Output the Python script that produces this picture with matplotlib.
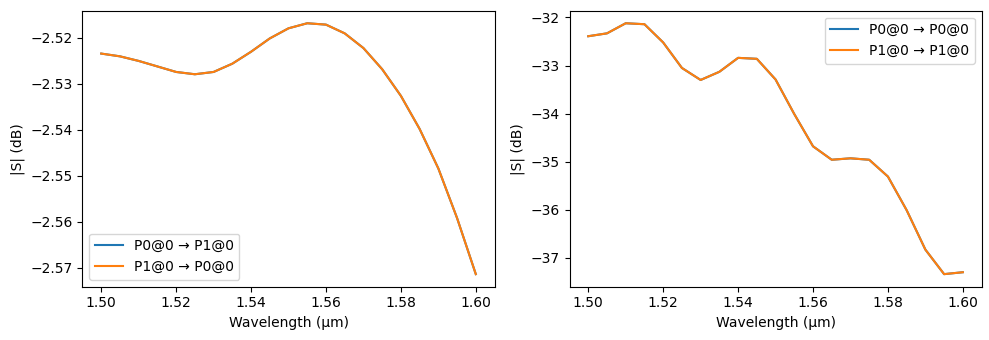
import numpy as np
import matplotlib.pyplot as plt

wavelength = np.round(np.arange(1.500, 1.6001, 0.005), 3)

s21 = [-2.5234, -2.5240, -2.5250, -2.5262, -2.5274, -2.5279, -2.5274, -2.5256,
       -2.5230, -2.5201, -2.5179, -2.5168, -2.5171, -2.5190, -2.5222, -2.5268,
       -2.5326, -2.5398, -2.5484, -2.5592, -2.5714]
s12 = list(s21)

s11 = [-32.39, -32.33, -32.12, -32.14, -32.52, -33.05, -33.30, -33.13, -32.84,
       -32.86, -33.29, -34.01, -34.68, -34.96, -34.93, -34.96, -35.31, -36.01,
       -36.83, -37.34, -37.30]
s22 = list(s11)

fig, (ax1, ax2) = plt.subplots(1, 2, figsize=(9.89, 3.4), dpi=100)

ax1.plot(wavelength, s21, label="P0@0 → P1@0")
ax1.plot(wavelength, s12, label="P1@0 → P0@0")
ax1.set_xlabel("Wavelength (µm)")
ax1.set_ylabel("|S| (dB)")
ax1.legend()

ax2.plot(wavelength, s11, label="P0@0 → P0@0")
ax2.plot(wavelength, s22, label="P1@0 → P1@0")
ax2.set_xlabel("Wavelength (µm)")
ax2.set_ylabel("|S| (dB)")
ax2.legend()

fig.subplots_adjust(left=0.0834, right=0.9925, top=0.9685, bottom=0.1568, wspace=0.182)
plt.savefig("out.png")
